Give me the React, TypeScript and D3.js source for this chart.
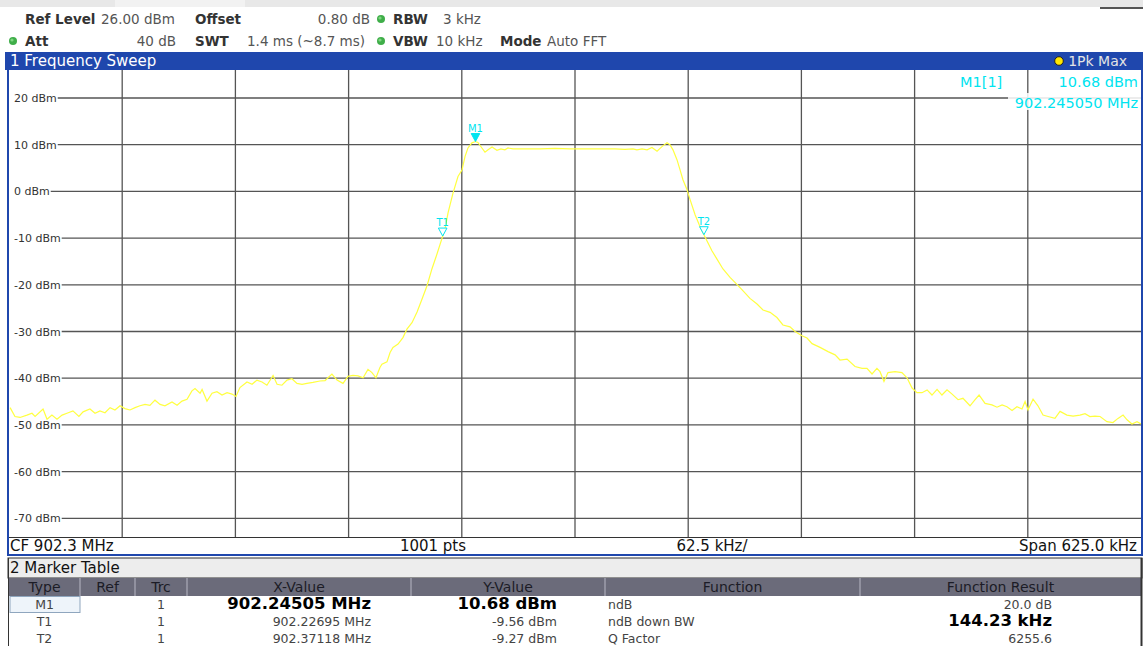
import React from 'react';
import * as d3 from 'd3';

// ---------- data ----------
const yTicksDbm = [20, 10, 0, -10, -20, -30, -40, -50, -60, -70];
const xGridOffsetKHz = [-250, -187.5, -125, -62.5, 0, 62.5, 125, 187.5, 250];

const traceOffsetKHz = [
  -311.9, -309.2, -306.4, -302.6, -299.8, -298.1, -293.7, -291.5, -288.8, -286.0,
  -283.2, -280.5, -277.2, -273.9, -271.6, -267.8, -265.0, -262.3, -259.5, -256.7,
  -254.0, -251.2, -248.5, -245.7, -242.9, -240.2, -237.4, -234.7, -231.9, -229.1,
  -226.4, -222.5, -219.7, -217.0, -214.2, -211.5, -209.8, -207.0, -205.9, -203.2,
  -200.4, -197.7, -194.9, -192.1, -189.4, -187.2, -185.0, -181.1, -178.3, -175.6,
  -172.8, -170.1, -166.7, -164.5, -161.8, -159.0, -156.3, -153.5, -150.7, -148.0,
  -144.7, -140.8, -138.0, -134.2, -131.4, -128.1, -125.3, -122.6, -119.8, -117.0,
  -114.3, -112.1, -109.9, -107.7, -106.6, -103.8, -102.1, -100.5, -97.7, -95.0,
  -92.8, -90.0, -87.2, -84.5, -81.7, -79.0, -76.2, -73.05, -71.8, -70.1,
  -67.4, -64.6, -62.4, -60.7, -59.1, -56.9, -54.95, -53.6, -51.4, -49.7,
  -48.0, -45.8, -43.1, -40.9, -38.7, -37.0, -34.2, -27.6, -19.3, -11.0,
  -2.8, 5.5, 13.8, 22.1, 27.6, 32.0, 34.2, 37.0, 39.8, 42.5,
  45.3, 48.0, 50.8, 52.4, 54.1, 56.3, 58.0, 59.6, 61.8, 63.5,
  66.3, 69.0, 71.18, 72.9, 75.6, 78.4, 81.7, 85.6, 89.4, 92.8,
  96.6, 100.5, 103.8, 107.7, 111.5, 114.8, 118.7, 121.5, 125.3, 128.1,
  130.9, 135.3, 139.7, 143.6, 146.3, 150.2, 154.6, 158.5, 161.2, 164.0,
  166.7, 168.4, 170.6, 172.8, 176.7, 180.5, 183.3, 186.1, 188.8, 191.6,
  194.4, 197.1, 199.9, 202.6, 205.4, 208.2, 211.5, 214.2, 218.1, 220.9,
  223.1, 226.4, 230.2, 233.0, 235.8, 238.5, 241.3, 244.0, 246.8, 248.5,
  250.1, 252.9, 255.6, 258.4, 261.2, 265.0, 267.8, 271.6, 275.0, 278.8,
  281.6, 284.3, 287.1, 289.9, 293.7, 297.0, 299.8, 302.6, 304.8, 307.5,
  310.3, 312.5,
];

const traceLevelDbm = [
  -46.3, -48.2, -48.4, -47.9, -47.5, -48.2, -46.6, -48.8, -47.9, -48.8,
  -47.9, -47.5, -47.0, -48.2, -47.2, -46.6, -47.5, -47.0, -47.4, -46.3,
  -46.8, -45.9, -46.5, -46.8, -46.3, -45.9, -45.6, -45.8, -44.7, -45.6,
  -45.9, -45.1, -45.8, -44.9, -44.5, -42.7, -42.2, -43.2, -42.4, -44.9,
  -43.2, -42.9, -43.6, -43.1, -43.4, -43.9, -42.0, -40.8, -41.3, -40.4,
  -40.8, -41.5, -39.4, -41.3, -41.5, -40.4, -40.1, -41.1, -41.3, -41.1,
  -40.9, -40.6, -40.5, -39.1, -40.4, -41.1, -39.6, -39.4, -39.5, -39.9,
  -38.1, -38.8, -39.9, -37.7, -37.0, -36.5, -34.5, -33.4, -32.7, -31.3,
  -29.5, -28.1, -25.8, -23.1, -20.2, -16.6, -13.4, -9.56, -8.1, -4.6,
  -0.4, 3.2, 4.6, 7.5, 9.3, 10.4, 10.68, 10.5, 9.3, 8.4,
  8.9, 9.5, 8.8, 9.1, 8.9, 9.3, 9.1, 9.1, 9.1, 9.2,
  9.1, 9.1, 9.1, 9.1, 9.0, 9.1, 8.9, 9.1, 8.9, 9.4,
  8.6, 9.6, 10.4, 10.0, 8.9, 6.8, 4.6, 2.5, 0.4, -1.7,
  -5.0, -7.5, -9.27, -10.6, -12.7, -14.5, -16.6, -18.4, -19.9, -21.3,
  -22.9, -24.1, -25.4, -25.9, -27.0, -28.6, -29.0, -30.0, -30.9, -31.4,
  -32.6, -33.4, -34.3, -35.0, -36.1, -35.9, -37.5, -37.9, -37.9, -39.1,
  -37.9, -38.6, -40.7, -38.8, -38.6, -38.8, -39.9, -42.1, -43.1, -43.1,
  -42.5, -43.6, -42.4, -43.6, -42.5, -43.4, -44.6, -44.3, -45.9, -44.6,
  -43.6, -45.4, -45.7, -46.2, -45.7, -46.1, -46.9, -46.1, -46.6, -45.0,
  -46.8, -44.5, -45.9, -47.9, -48.2, -48.6, -47.1, -47.9, -48.1, -47.9,
  -47.6, -48.2, -48.1, -48.2, -49.3, -49.5, -48.6, -47.9, -48.9, -49.8,
  -49.3, -49.8,
];

const markerNames = ['M1', 'T1', 'T2'];
const markerOffsetKHz = [-54.95, -73.05, 71.18];
const markerLevelDbm = [10.68, -9.56, -9.27];
const markerFilled = [true, false, false];

const tableColumns = ['Type', 'Ref', 'Trc', 'X-Value', 'Y-Value', 'Function', 'Function Result'];
const tableType = ['M1', 'T1', 'T2'];
const tableTrc = ['1', '1', '1'];
const tableX = ['902.24505 MHz', '902.22695 MHz', '902.37118 MHz'];
const tableY = ['10.68 dBm', '-9.56 dBm', '-9.27 dBm'];
const tableFunc = ['ndB', 'ndB down BW', 'Q Factor'];
const tableResult = ['20.0 dB', '144.23 kHz', '6255.6'];
const tableXBold = [true, false, false];
const tableYBold = [true, false, false];
const tableResultBold = [false, true, false];

// ---------- layout ----------
const W = 1143;
const H = 646;
const PL = 9, PR = 1141, PT = 70, PB = 537;
const FONT = '"DejaVu Sans", Verdana, sans-serif';
const BLUE = '#1f47ad';
const CYAN = '#00e4f0';
const YELLOW = '#ffff40';
const GRID = '#555';
const colEdges = [9, 80, 135, 187, 411, 605, 860, 1141];

let measureCtx: CanvasRenderingContext2D | null = null;
function textWidth(s: string, font: string) {
  if (!measureCtx) measureCtx = document.createElement('canvas').getContext('2d');
  if (!measureCtx) return s.length * 6.5;
  measureCtx.font = font;
  return measureCtx.measureText(s).width;
}

function Dot({ x, y }: { x: number; y: number }) {
  return (
    <g>
      <circle cx={x} cy={y} r={4} fill="#3fae49" />
      <circle cx={x - 1} cy={y - 1} r={1.6} fill="#8fe08f" opacity={0.8} />
    </g>
  );
}

export default function App() {
  const x = d3.scaleLinear().domain([-312.5, 312.5]).range([PL, PR]);
  const y = d3.scaleLinear().domain([-74, 26]).range([PB, PT]);

  const pts: [number, number][] = traceOffsetKHz.map((f, i) => [f, traceLevelDbm[i]]);
  const line = d3
    .line<[number, number]>()
    .x((d) => x(d[0]))
    .y((d) => y(d[1]));
  const tracePath = line(pts) || '';

  const labelFont = `11px ${FONT}`;

  const hdrBold = { fontFamily: FONT, fontSize: 13.5, fontWeight: 700, fill: '#333' } as const;
  const hdrVal = { fontFamily: FONT, fontSize: 13.5, fill: '#555' } as const;

  const rowBase = [609, 626, 643];
  const cellText = { fontFamily: FONT, fontSize: 12.5, fill: '#444' } as const;
  const cellBold = { fontFamily: FONT, fontSize: 16.5, fontWeight: 700, fill: '#000' } as const;

  return (
    <svg
      width={W}
      height={H}
      viewBox={`0 0 ${W} ${H}`}
      style={{ position: 'absolute', left: 0, top: 0, display: 'block', background: '#fff' }}
    >
      <defs>
        <clipPath id="plotclip">
          <rect x={PL} y={PT} width={PR - PL} height={PB - PT} />
        </clipPath>
      </defs>
      {/* top strip */}
      <rect x={0} y={0} width={W} height={7} fill="#e8e8e8" />
      <rect x={115} y={0} width={130} height={7} fill="#f2f2f2" />
      <rect x={1100} y={7} width={43} height={2} fill="#555" />

      {/* header settings */}
      <text x={25} y={24} style={hdrBold}>Ref Level</text>
      <text x={101} y={24} style={hdrVal}>26.00 dBm</text>
      <text x={195} y={24} style={hdrBold}>Offset</text>
      <text x={370} y={24} textAnchor="end" style={hdrVal}>0.80 dB</text>
      <Dot x={381} y={19} />
      <text x={393} y={24} style={hdrBold}>RBW</text>
      <text x={443} y={24} style={hdrVal}>3 kHz</text>

      <Dot x={13} y={41} />
      <text x={25} y={46} style={hdrBold}>Att</text>
      <text x={176} y={46} textAnchor="end" style={hdrVal}>40 dB</text>
      <text x={195} y={46} style={hdrBold}>SWT</text>
      <text x={247} y={46} style={hdrVal}>1.4 ms (~8.7 ms)</text>
      <Dot x={381} y={41} />
      <text x={393} y={46} style={hdrBold}>VBW</text>
      <text x={436} y={46} style={hdrVal}>10 kHz</text>
      <text x={500} y={46} style={hdrBold}>Mode</text>
      <text x={547} y={46} style={hdrVal}>Auto FFT</text>

      {/* title bar */}
      <rect x={5} y={52} width={W - 5} height={18} fill={BLUE} />
      <text x={10} y={66} style={{ fontFamily: FONT, fontSize: 15, fill: '#fff' }}>1 Frequency Sweep</text>
      <circle cx={1059} cy={61} r={4.3} fill="#ffe600" stroke="#222" strokeWidth={1} />
      <text x={1127} y={66} textAnchor="end" style={{ fontFamily: FONT, fontSize: 14, fill: '#e4e4e4' }}>1Pk Max</text>

      {/* plot area */}
      <rect x={PL} y={PT} width={PR - PL} height={PB - PT} fill="#fff" />
      {xGridOffsetKHz.map((f) => (
        <line key={'vx' + f} x1={x(f)} x2={x(f)} y1={PT} y2={PB} stroke={GRID} strokeWidth={1.3} />
      ))}
      {yTicksDbm.map((v) => {
        const label = `${v} dBm`;
        const w = textWidth(label, labelFont);
        return (
          <g key={'hy' + v}>
            <line x1={14 + w + 1} x2={PR} y1={y(v)} y2={y(v)} stroke={GRID} strokeWidth={1.3} />
            <text x={14} y={y(v) + 4} style={{ fontFamily: FONT, fontSize: 11, fill: '#333' }}>{label}</text>
          </g>
        );
      })}

      {/* marker info top-right */}
      <rect x={1008} y={93} width={PR - 1008} height={17} fill="#fff" opacity={0.85} />
      <text x={960} y={87} style={{ fontFamily: FONT, fontSize: 14.5, fill: CYAN }}>M1[1]</text>
      <text x={1138} y={87} textAnchor="end" style={{ fontFamily: FONT, fontSize: 14.5, fill: CYAN }}>10.68 dBm</text>
      <text x={1138} y={108} textAnchor="end" style={{ fontFamily: FONT, fontSize: 14.5, fill: CYAN }}>902.245050 MHz</text>

      {/* trace */}
      <path d={tracePath} fill="none" stroke={YELLOW} strokeWidth={1.2} clipPath="url(#plotclip)" />

      {/* markers */}
      {markerNames.map((m, i) => {
        const mx = x(markerOffsetKHz[i]);
        const my = y(markerLevelDbm[i]);
        const tri = `M${mx},${my} L${mx - 4.3},${my - 8} L${mx + 4.3},${my - 8} Z`;
        return (
          <g key={m}>
            <path d={tri} fill={markerFilled[i] ? CYAN : '#fff'} stroke={CYAN} strokeWidth={1} />
            <text x={mx} y={my - 10} textAnchor="middle" style={{ fontFamily: FONT, fontSize: 10, fill: CYAN }}>{m}</text>
          </g>
        );
      })}

      {/* borders */}
      <line x1={PL} x2={PR} y1={PB + 0.5} y2={PB + 0.5} stroke="#333" strokeWidth={1} />
      <rect x={7} y={52} width={2} height={504} fill={BLUE} />
      <rect x={1141} y={52} width={2} height={504} fill={BLUE} />
      <rect x={7} y={554} width={1136} height={2} fill={BLUE} />

      {/* bottom info row */}
      <text x={10} y={551} style={{ fontFamily: FONT, fontSize: 15, fill: '#111' }}>CF 902.3 MHz</text>
      <text x={433} y={551} textAnchor="middle" style={{ fontFamily: FONT, fontSize: 15, fill: '#111' }}>1001 pts</text>
      <text x={712} y={551} textAnchor="middle" style={{ fontFamily: FONT, fontSize: 15, fill: '#111' }}>62.5 kHz/</text>
      <text x={1137} y={551} textAnchor="end" style={{ fontFamily: FONT, fontSize: 15, fill: '#111' }}>Span 625.0 kHz</text>

      {/* marker table */}
      <rect x={8} y={558} width={1134} height={20} fill="#ededed" stroke="#333" strokeWidth={1} />
      <text x={10} y={573} style={{ fontFamily: FONT, fontSize: 15, fill: '#111' }}>2 Marker Table</text>
      <rect x={9} y={578} width={1132} height={18} fill="#6b6b7a" />
      {colEdges.slice(1, -1).map((cx) => (
        <line key={'ce' + cx} x1={cx} x2={cx} y1={578} y2={596} stroke="#b8b8c4" strokeWidth={1} />
      ))}
      {tableColumns.map((c, i) => (
        <text
          key={c}
          x={(colEdges[i] + colEdges[i + 1]) / 2}
          y={592}
          textAnchor="middle"
          style={{ fontFamily: FONT, fontSize: 14, fill: '#1c1c26' }}
        >
          {c}
        </text>
      ))}
      <rect x={10} y={596.5} width={70} height={16} fill="#eef4fa" stroke="#8fa6be" strokeWidth={1} />
      <line x1={1141.5} x2={1141.5} y1={558} y2={H} stroke="#333" strokeWidth={2} />
      <line x1={8.5} x2={8.5} y1={558} y2={H} stroke="#333" strokeWidth={1} />
      {tableType.map((t, i) => (
        <g key={'row' + i}>
          <text x={44.5} y={rowBase[i]} textAnchor="middle" style={cellText}>{t}</text>
          <text x={161} y={rowBase[i]} textAnchor="middle" style={cellText}>{tableTrc[i]}</text>
          <text x={371} y={rowBase[i]} textAnchor="end" style={tableXBold[i] ? cellBold : cellText}>{tableX[i]}</text>
          <text x={557} y={rowBase[i]} textAnchor="end" style={tableYBold[i] ? cellBold : cellText}>{tableY[i]}</text>
          <text x={608} y={rowBase[i]} style={cellText}>{tableFunc[i]}</text>
          <text x={1052} y={rowBase[i]} textAnchor="end" style={tableResultBold[i] ? cellBold : cellText}>{tableResult[i]}</text>
        </g>
      ))}
    </svg>
  );
}
